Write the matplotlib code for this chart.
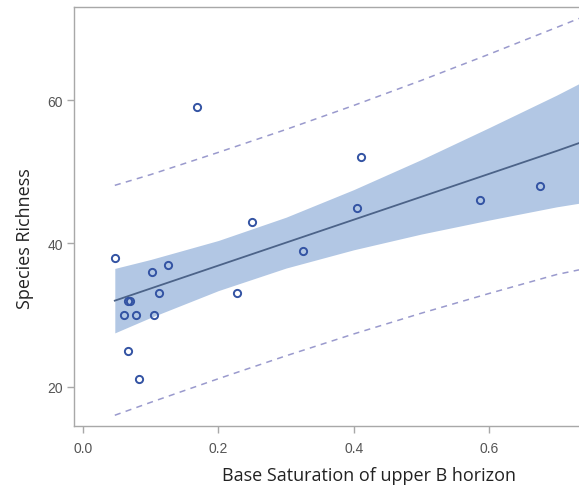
import matplotlib
matplotlib.use("Agg")
import matplotlib.pyplot as plt
import numpy as np

base_sat = [0.047, 0.168, 0.250, 0.102, 0.125, 0.113, 0.069, 0.066, 0.060, 0.078,
            0.105, 0.067, 0.083, 0.227, 0.411, 0.405, 0.587, 0.676, 0.325]
richness = [38, 59, 43, 36, 37, 33, 32, 32, 30, 30,
            30, 25, 21, 33, 52, 45, 46, 48, 39]

# fit line, 95% confidence band and 95% prediction limits
band_x = [0.047, 0.1, 0.2, 0.3, 0.4, 0.5, 0.6, 0.7, 0.733]
fit_y = [32.0, 33.7, 36.9, 40.1, 43.3, 46.5, 49.7, 52.9, 54.0]
ci_lower = [27.5, 29.65, 33.4, 36.55, 39.1, 41.3, 43.25, 45.1, 45.6]
ci_upper = [36.5, 37.75, 40.4, 43.65, 47.5, 51.7, 56.15, 60.7, 62.3]
pi_lower = [16.0, 17.8, 21.1, 24.3, 27.35, 30.25, 33.0, 35.65, 36.3]
pi_upper = [48.1, 49.6, 52.7, 55.9, 59.25, 62.75, 66.4, 70.15, 71.4]

x_ticks = [0.0, 0.2, 0.4, 0.6]
y_ticks = [20, 40, 60]

fig = plt.figure(figsize=(5.79, 4.89), dpi=100)
ax = fig.add_axes([74 / 579, 1 - 427 / 489, 505 / 579, 419 / 489])

ax.fill_between(band_x, ci_lower, ci_upper, color='#B2C7E4', linewidth=0, zorder=1)
ax.plot(band_x, fit_y, color='#4C6388', linewidth=1.3, zorder=2)
ax.plot(band_x, pi_lower, color='#9A9ACD', linewidth=1.1, dashes=(4, 3.5), zorder=2)
ax.plot(band_x, pi_upper, color='#9A9ACD', linewidth=1.1, dashes=(4, 3.5), zorder=2)
ax.plot(base_sat, richness, linestyle='none', marker='o', markersize=5.2,
        markerfacecolor='none', markeredgecolor='#3353A3', markeredgewidth=1.4, zorder=3)

ax.set_xlim(-0.0133, 0.733)
ax.set_ylim(14.5, 73.0)
ax.set_xticks(x_ticks)
ax.set_xticklabels(['%.1f' % t for t in x_ticks])
ax.set_yticks(y_ticks)

for side in ['left', 'bottom', 'top']:
    ax.spines[side].set_color('#A8A8A8')
    ax.spines[side].set_linewidth(1.0)
ax.spines['right'].set_visible(False)

ax.tick_params(axis='both', colors='#A8A8A8', length=5, width=1.0, labelcolor='#555555',
               labelsize=10)
ax.tick_params(axis='x', pad=6)
ax.tick_params(axis='y', pad=3)
for lab in ax.get_xticklabels() + ax.get_yticklabels():
    lab.set_family('Liberation Sans')

ax.set_xlabel('Base Saturation of upper B horizon', fontsize=13, family='Open Sans',
              color='#222222')
ax.set_ylabel('Species Richness', fontsize=13, family='Open Sans', color='#222222')
ax.xaxis.set_label_coords(0.584, -0.095)
ax.yaxis.set_label_coords(-0.08, 0.45)

fig.savefig('out.png', dpi=100)
